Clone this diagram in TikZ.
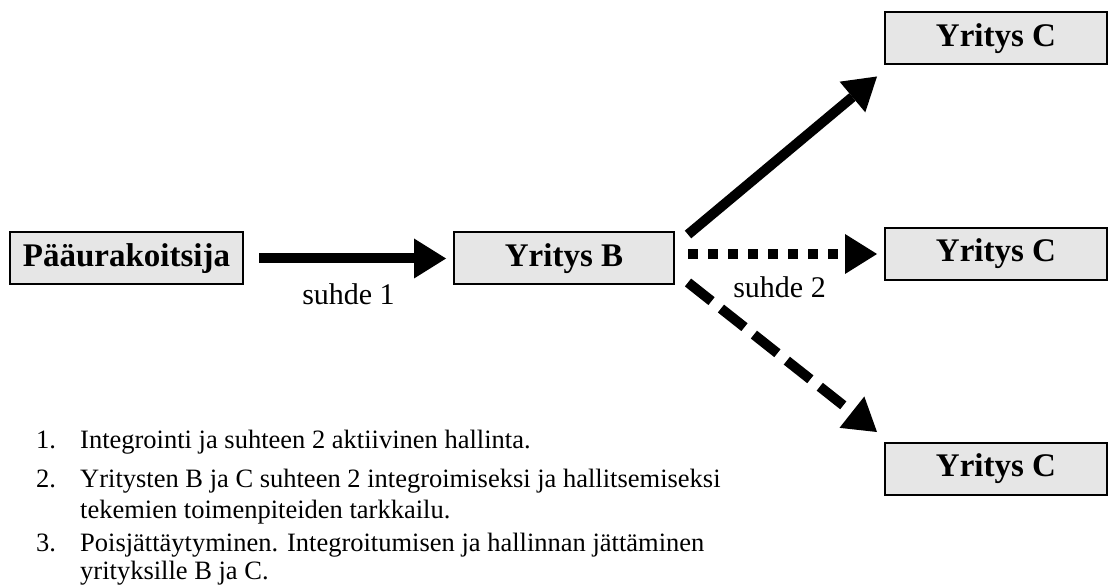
\documentclass[tikz,border=0pt]{standalone}
\usepackage{fontspec}
\setmainfont{Liberation Serif}
\usetikzlibrary{arrows.meta}
\definecolor{boxgray}{RGB}{230,230,230}
\tikzset{
  firm/.style={draw=black, line width=2pt, fill=boxgray, minimum height=52pt, inner sep=0pt,
    font=\fontsize{33}{38}\selectfont\bfseries},
  bigarrow/.style={line width=10pt, line cap=butt,
    -{Triangle[length=32pt,width=40pt,line width=0pt]}},
  rel/.style={font=\fontsize{30}{34}\selectfont},
  listtext/.style={anchor=base west, inner sep=0pt, font=\fontsize{26.5}{30}\selectfont}
}
\begin{document}
\begin{tikzpicture}[x=1pt,y=-1pt]
\useasboundingbox (0,0) rectangle (1109,588);
\node[firm, minimum width=233pt] (P) at (126.5,258.5) {Pääurakoitsija};
\node[firm, minimum width=220pt] (B) at (564,258.5) {Yritys B};
\node[firm, minimum width=222pt] (C1) at (996,38.5) {Yritys C};
\node[firm, minimum width=222pt] (C2) at (996,254) {Yritys C};
\node[firm, minimum width=222pt] (C3) at (996,469) {Yritys C};

\draw[bigarrow, shorten <=15pt, shorten >=7pt] (P.east) -- (B.west)
  node[rel, midway, yshift=-36pt] {suhde 1};
\draw[bigarrow] ([xshift=13pt,yshift=-3pt]B.north east) -- ([xshift=-7pt,yshift=-11pt]C1.south west);
\draw[bigarrow, dash pattern=on 10pt off 10pt, shorten <=13pt, shorten >=7pt] (B.east |- C2.west) -- (C2.west)
  node[rel, midway, yshift=-33pt] {suhde 2};
\draw[bigarrow, dash pattern=on 30pt off 12pt] ([xshift=13pt,yshift=3pt]B.south east) -- ([xshift=-7pt,yshift=10pt]C3.north west);

\node[listtext] (n1) at (36,448) {1.};
\node[listtext] (t1) at (80,448) {Integrointi ja suhteen 2 aktiivinen hallinta.};
\node[listtext] (n2) at (36,487) {2.};
\node[listtext] (t2a) at (80,487) {Yritysten B ja C suhteen 2 integroimiseksi ja hallitsemiseksi};
\node[listtext] (t2b) at (80,518) {tekemien toimenpiteiden tarkkailu.};
\node[listtext] (n3) at (36,551) {3.};
\node[listtext] (t3a) at (80,551) {Poisjättäytyminen. Integroitumisen ja hallinnan jättäminen};
\node[listtext] (t3b) at (80,579) {yrityksille B ja C.};
\end{tikzpicture}
\end{document}
